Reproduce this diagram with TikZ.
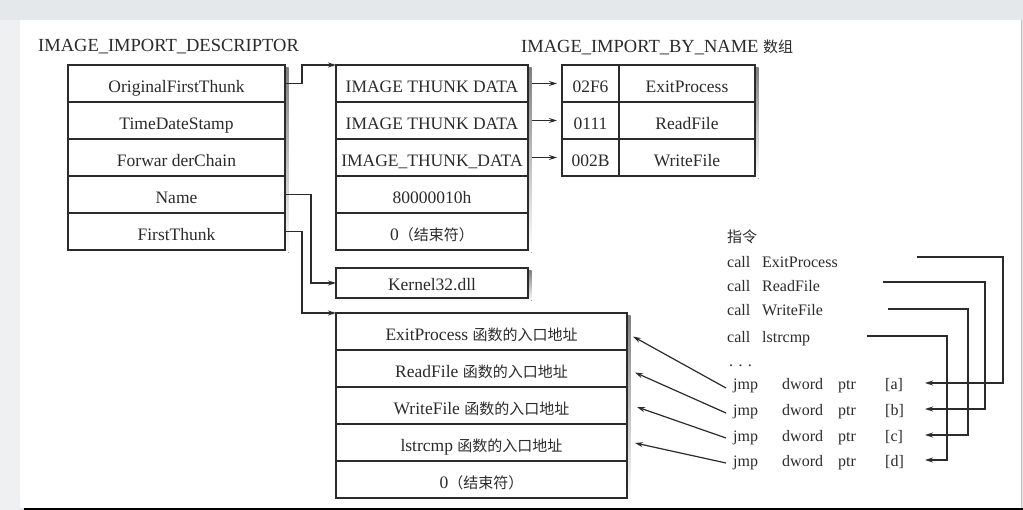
\documentclass[tikz,border=0pt]{standalone}
\usepackage{fontspec}
\setmainfont{Liberation Serif}
\newfontfamily\cjk{Noto Sans CJK SC}
\usetikzlibrary{arrows.meta,calc}
\definecolor{ink}{HTML}{2B2B2B}
\definecolor{topgray}{HTML}{E4E8EA}
\definecolor{sidegray}{HTML}{EEF0F1}
\definecolor{baseline}{HTML}{505050}
\definecolor{shade}{HTML}{9C9C9C}
\newcommand\zh[1]{{\cjk\fontsize{15}{18}\selectfont #1}}
\begin{document}
\begin{tikzpicture}[x=1pt,y=-1pt,
  cell/.style={draw=ink, fill=white, line width=1.3pt, inner sep=0pt, outer sep=0pt,
    minimum height=37pt, text height=19pt, text depth=0pt,
    font=\fontsize{17.5}{20}\selectfont, text=ink},
  lcell/.style={cell, minimum width=217pt},
  mcell/.style={cell, minimum width=192pt},
  bcell/.style={cell, minimum width=291pt},
  ncella/.style={cell, minimum width=57pt},
  ncellb/.style={cell, minimum width=136pt},
  title/.style={anchor=west, inner sep=0pt, font=\fontsize{18.5}{21}\selectfont, text=ink},
  rt/.style={anchor=base west, inner sep=0pt, font=\fontsize{16}{18}\selectfont, text=ink},
  arr/.style={draw=ink, line width=1.2pt, -{Stealth[length=8pt,width=5pt]}}
]
\useasboundingbox (0,0) rectangle (1023,510);
% page
\fill[topgray] (0,0) rectangle (1023,510);
\fill[sidegray] (0,20) rectangle (20,510);
\fill[white] (20,20) rectangle (1021,507.5);
\fill[baseline] (24,507.5) rectangle (1023,510);
\draw[black!25, line width=0.8pt] (1021,20) -- (1021,507.5);

% box shadows (drawn first, below the cells)
\fill[shade] (71,68) rectangle (288.5,253);
\fill[shade] (339,68) rectangle (531.5,253);
\fill[shade] (565,68) rectangle (758.5,179);
\fill[shade] (339,271) rectangle (531.5,301);
\fill[shade] (339,316) rectangle (630.5,501);

% titles
\node[title] (t1) at (38,47) {IMAGE\_IMPORT\_DESCRIPTOR};
\node[title] (t2) at (521,47) {IMAGE\_IMPORT\_BY\_NAME \zh{数组}};

% descriptor
\node[lcell] (l1) at (176.5,83.5) {OriginalFirstThunk};
\node[lcell] (l2) at (176.5,120.5) {TimeDateStamp};
\node[lcell] (l3) at (176.5,157.5) {Forwar derChain};
\node[lcell] (l4) at (176.5,194.5) {Name};
\node[lcell] (l5) at (176.5,231.5) {FirstThunk};

% thunk data
\node[mcell] (m1) at (432,83.5) {IMAGE THUNK DATA};
\node[mcell] (m2) at (432,120.5) {IMAGE THUNK DATA};
\node[mcell] (m3) at (432,157.5) {IMAGE\_THUNK\_DATA};
\node[mcell] (m4) at (432,194.5) {80000010h};
\node[mcell] (m5) at (432,231.5) {0\zh{（结束符）}};

% import by name
\node[ncella] (n1a) at (590.5,83.5) {02F6};
\node[ncellb] (n1b) at (687,83.5) {ExitProcess};
\node[ncella] (n2a) at (590.5,120.5) {0111};
\node[ncellb] (n2b) at (687,120.5) {ReadFile};
\node[ncella] (n3a) at (590.5,157.5) {002B};
\node[ncellb] (n3b) at (687,157.5) {WriteFile};

% kernel32
\node[mcell, minimum height=30pt, text height=16pt] (kern) at (432,283) {Kernel32.dll};

% IAT
\node[bcell] (b1) at (481.5,331.5) {ExitProcess \zh{函数的入口地址}};
\node[bcell] (b2) at (481.5,368.5) {ReadFile \zh{函数的入口地址}};
\node[bcell] (b3) at (481.5,405.5) {WriteFile \zh{函数的入口地址}};
\node[bcell] (b4) at (481.5,442.5) {lstrcmp \zh{函数的入口地址}};
\node[bcell] (b5) at (481.5,479.5) {0\zh{（结束符）}};

% connectors left
\draw[arr] (l1.east) -- ++(17,0) |- (m1.north west);
\draw[arr] (l4.east) -- ++(26,0) |- (kern.west);
\draw[arr] (l5.east) -- ++(17,0) |- (b1.north west);
\draw[arr, shorten <=4pt, shorten >=5pt] (m1.east) -- (n1a.west);
\draw[arr, shorten <=4pt, shorten >=5pt] (m2.east) -- (n2a.west);
\draw[arr, shorten <=4pt, shorten >=5pt] (m3.east) -- (n3a.west);

% instruction listing
\node[rt] (zl) at (727,243) {\zh{指令}};
\node[rt] (c1a) at (727,268) {call};
\node[rt] (c1b) at (762,268) {ExitProcess};
\node[rt] (c2a) at (727,292) {call};
\node[rt] (c2b) at (762,292) {ReadFile};
\node[rt] (c3a) at (727,316) {call};
\node[rt] (c3b) at (762,316) {WriteFile};
\node[rt] (c4a) at (727,343) {call};
\node[rt] (c4b) at (762,343) {lstrcmp};
\node[rt] (dots) at (729,367) {.\,\,.\,\,.};
\foreach \i/\y/\l in {1/390/a,2/416/b,3/442/c,4/467/d}{
  \node[rt] (j\i a) at (733,\y) {jmp};
  \node[rt] (j\i b) at (782,\y) {dword};
  \node[rt] (j\i c) at (838,\y) {ptr};
  \node[rt] (j\i d) at (885,\y) {[\l]};
}

% right connectors
\coordinate (s1) at (917,257);
\coordinate (s2) at (883,282);
\coordinate (s3) at (888,309);
\coordinate (s4) at (867,336);
\coordinate (e1) at (925,383);
\coordinate (e2) at (925,409);
\coordinate (e3) at (925,435);
\coordinate (e4) at (925,460);
\draw[arr] (s1) -- ++(86,0) |- (e1);
\draw[arr] (s2) -- ++(102,0) |- (e2);
\draw[arr] (s3) -- ++(80,0) |- (e3);
\draw[arr] (s4) -- ++(80,0) |- (e4);

% jump to IAT
\coordinate (g1) at (726,388);
\coordinate (g2) at (726,413);
\coordinate (g3) at (726,438);
\coordinate (g4) at (726,463);
\draw[arr] (g1) -- ($(b1.east)+(6,5)$);
\draw[arr] (g2) -- ($(b2.east)+(8,4)$);
\draw[arr] (g3) -- ($(b3.east)+(10,1.5)$);
\draw[arr] (g4) -- ($(b4.east)+(8,0.5)$);
\end{tikzpicture}
\end{document}
